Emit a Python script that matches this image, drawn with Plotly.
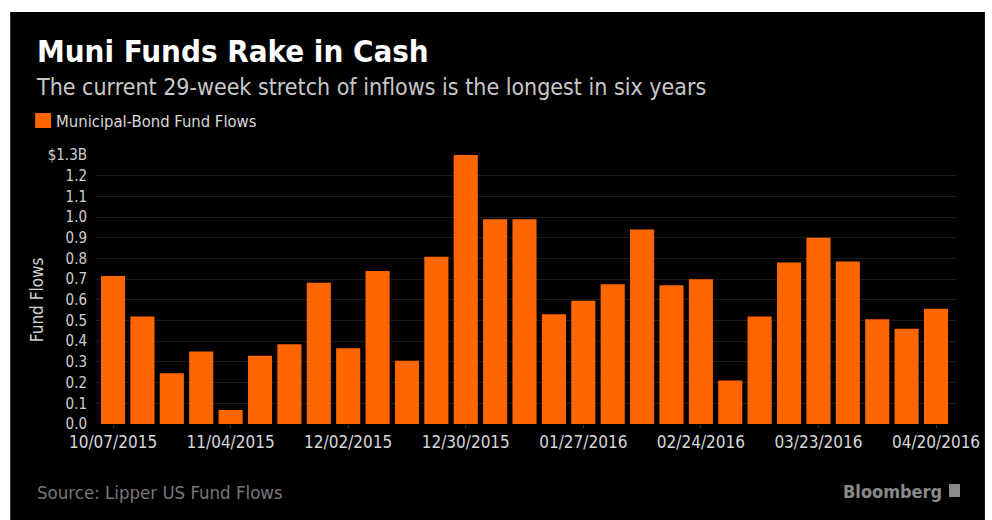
import plotly.graph_objects as go

weeks = ["10/07/2015", "10/14/2015", "10/21/2015", "10/28/2015", "11/04/2015", "11/11/2015",
         "11/18/2015", "11/25/2015", "12/02/2015", "12/09/2015", "12/16/2015", "12/23/2015",
         "12/30/2015", "01/06/2016", "01/13/2016", "01/20/2016", "01/27/2016", "02/03/2016",
         "02/10/2016", "02/17/2016", "02/24/2016", "03/02/2016", "03/09/2016", "03/16/2016",
         "03/23/2016", "03/30/2016", "04/06/2016", "04/13/2016", "04/20/2016"]
flows = [0.715, 0.52, 0.245, 0.35, 0.068, 0.33, 0.385, 0.683, 0.366, 0.74, 0.306, 0.808,
         1.30, 0.99, 0.99, 0.53, 0.596, 0.675, 0.94, 0.67, 0.70, 0.21, 0.52, 0.78,
         0.90, 0.785, 0.506, 0.46, 0.557]
ytick_vals = [0.0, 0.1, 0.2, 0.3, 0.4, 0.5, 0.6, 0.7, 0.8, 0.9, 1.0, 1.1, 1.2, 1.3]
ytick_text = ["0.0", "0.1", "0.2", "0.3", "0.4", "0.5", "0.6", "0.7", "0.8", "0.9",
              "1.0", "1.1", "1.2", "$1.3B"]
xtick_vals = weeks[::4]

W, H = 992, 520
L, R, T, B = 96, 34, 155, 96
PW, PH = W - L - R, H - T - B
FONT = "DejaVu Sans Condensed, Liberation Sans Narrow, DejaVu Sans, sans-serif"
ORANGE = "#ff6600"


def px(x):
    return (x - L) / PW


def py(y):
    return (H - B - y) / PH


fig = go.Figure()
fig.add_trace(go.Bar(x=weeks, y=flows, marker=dict(color=ORANGE, line=dict(width=0)),
                     name="Municipal-Bond Fund Flows", showlegend=False))

shapes = [
    dict(type="rect", xref="paper", yref="paper", x0=px(10), x1=px(987), y0=py(12), y1=py(520),
         fillcolor="black", line=dict(width=0), layer="below"),
    dict(type="rect", xref="paper", yref="paper", x0=px(35), x1=px(51), y0=py(113), y1=py(128),
         fillcolor=ORANGE, line=dict(width=0)),
    dict(type="rect", xref="paper", yref="paper", x0=px(951), x1=px(962), y0=py(484), y1=py(497),
         fillcolor="#8a8a8a", line=dict(width=0)),
]

annotations = [
    dict(text="<b>Muni Funds Rake in Cash</b>", x=px(35), y=py(51), xanchor="left", yanchor="middle",
         font=dict(family=FONT, size=31, color="white")),
    dict(text="The current 29-week stretch of inflows is the longest in six years", x=px(34), y=py(87),
         xanchor="left", yanchor="middle", font=dict(family=FONT, size=23, color="#c8c8c8")),
    dict(text="Municipal-Bond Fund Flows", x=px(54), y=py(121), xanchor="left", yanchor="middle",
         font=dict(family=FONT, size=16.5, color="#d8d8d8")),
    dict(text="Fund Flows", x=px(37), y=py(300), xanchor="center", yanchor="middle", textangle=-90,
         font=dict(family=FONT, size=17, color="#d0d0d0")),
    dict(text="Source: Lipper US Fund Flows", x=px(35), y=py(492), xanchor="left", yanchor="middle",
         font=dict(family=FONT, size=18.5, color="#777777")),
    dict(text="<b>Bloomberg</b>", x=px(946), y=py(491), xanchor="right", yanchor="middle",
         font=dict(family=FONT, size=18, color="#8a8a8a")),
]
for a in annotations:
    a.update(xref="paper", yref="paper", showarrow=False)

fig.update_layout(
    width=W, height=H,
    margin=dict(l=L, r=R, t=T, b=B, pad=0),
    paper_bgcolor="white", plot_bgcolor="black",
    bargap=0.18,
    shapes=shapes, annotations=annotations,
    xaxis=dict(type="category", range=[-0.58, 28.68], tickmode="array", tickvals=xtick_vals,
               ticktext=xtick_vals, showgrid=False, zeroline=False, showline=False,
               ticks="outside", ticklen=3, tickcolor="#2a3550",
               tickfont=dict(family=FONT, size=17, color="#d8d8d8")),
    yaxis=dict(range=[0, 1.3], tickmode="array", tickvals=ytick_vals, ticktext=ytick_text,
               showgrid=True, gridcolor="#1c1c1c", gridwidth=1, zeroline=False, showline=False,
               ticks="", ticklabelstandoff=8,
               tickfont=dict(family=FONT, size=15, color="#d0d0d0")),
)

fig.write_html("out.html")
